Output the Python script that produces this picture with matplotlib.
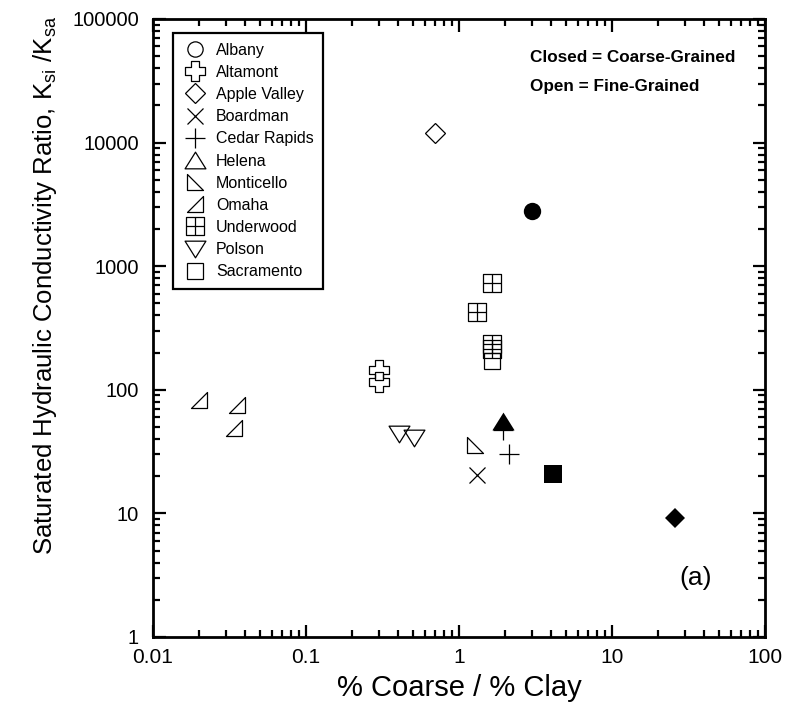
import matplotlib
matplotlib.use("Agg")
import matplotlib.pyplot as plt
from matplotlib.path import Path
from matplotlib.ticker import LogLocator, FixedLocator, NullFormatter
import numpy as np

plt.rcParams['font.family'] = ['Liberation Sans', 'DejaVu Sans']
plt.rcParams['mathtext.fontset'] = 'custom'
plt.rcParams['mathtext.rm'] = 'Liberation Sans'

# ---- data ----
albany_x = [3.0];            albany_y = [2800]
altamont_x = [0.30, 0.30];   altamont_y = [145, 116]
apple_open_x = [0.70];       apple_open_y = [12000]
apple_fill_x = [26.0];       apple_fill_y = [9.2]
boardman_x = [1.32];         boardman_y = [20.5]
cedar_x = [2.13, 1.94];      cedar_y = [30, 47]
helena_x = [1.94];           helena_y = [56]
monticello_x = [1.27];       monticello_y = [36]
omaha_x = [0.020, 0.0356, 0.0336]; omaha_y = [82, 76, 49]
underwood_x = [1.64, 1.32, 1.64, 1.64]; underwood_y = [730, 430, 235, 215]
polson_x = [0.406, 0.51];    polson_y = [44, 40.5]
sacr_open_x = [1.64];        sacr_open_y = [171]
sacr_fill_x = [4.1];         sacr_fill_y = [20.8]

x_ticks = [0.01, 0.1, 1, 10, 100]
x_tick_labels = ['0.01', '0.1', '1', '10', '100']
y_ticks = [1, 10, 100, 1000, 10000, 100000]
y_tick_labels = ['1', '10', '100', '1000', '10000', '100000']

# ---- custom markers ----
a = 0.38
cross_path = Path([(-a, 1), (a, 1), (a, a), (1, a), (1, -a), (a, -a), (a, -1),
                   (-a, -1), (-a, -a), (-1, -a), (-1, a), (-a, a), (-a, 1)],
                  [Path.MOVETO] + [Path.LINETO] * 11 + [Path.CLOSEPOLY])
montic_path = Path([(-1, 1), (-1, -1), (1, -1), (-1, 1)],
                   [Path.MOVETO, Path.LINETO, Path.LINETO, Path.CLOSEPOLY])
omaha_path = Path([(-1, -1), (1, -1), (1, 1), (-1, -1)],
                  [Path.MOVETO, Path.LINETO, Path.LINETO, Path.CLOSEPOLY])
grid_path = Path([(-1, -1), (1, -1), (1, 1), (-1, 1), (-1, -1),
                  (0, -1), (0, 1), (-1, 0), (1, 0)],
                 [Path.MOVETO, Path.LINETO, Path.LINETO, Path.LINETO, Path.CLOSEPOLY,
                  Path.MOVETO, Path.LINETO, Path.MOVETO, Path.LINETO])
tri_up = Path([(0, 0.8), (-1, -0.8), (1, -0.8), (0, 0.8)],
              [Path.MOVETO, Path.LINETO, Path.LINETO, Path.CLOSEPOLY])
tri_down = Path([(0, -0.8), (-1, 0.8), (1, 0.8), (0, -0.8)],
                [Path.MOVETO, Path.LINETO, Path.LINETO, Path.CLOSEPOLY])

W, H = 789, 708
fig = plt.figure(figsize=(W / 100, H / 100), dpi=100)
ax = fig.add_axes([153 / W, 1 - 637 / H, 612 / W, 618 / H])

lw = 0.9
open_kw = dict(linestyle='none', markerfacecolor='none', markeredgecolor='black',
               markeredgewidth=lw)

# legend (open) series
ax.plot(albany_x[:0], albany_y[:0], marker='o', ms=11, label='Albany', **open_kw)
ax.plot(altamont_x, altamont_y, marker=cross_path, ms=14, label='Altamont', **open_kw)
ax.plot(apple_open_x, apple_open_y, marker='D', ms=10, label='Apple Valley', **open_kw)
ax.plot(boardman_x, boardman_y, marker='x', ms=12, label='Boardman', **open_kw)
ax.plot(cedar_x, cedar_y, marker='+', ms=15, label='Cedar Rapids', **open_kw)
ax.plot([], [], marker=tri_up, ms=15, label='Helena', **open_kw)
ax.plot(monticello_x, monticello_y, marker=montic_path, ms=12, label='Monticello', **open_kw)
ax.plot(omaha_x, omaha_y, marker=omaha_path, ms=12, label='Omaha', **open_kw)
ax.plot(underwood_x, underwood_y, marker=grid_path, ms=12.5, label='Underwood', **open_kw)
ax.plot(polson_x, polson_y, marker=tri_down, ms=15, label='Polson', **open_kw)
ax.plot(sacr_open_x, sacr_open_y, marker='s', ms=12, label='Sacramento', **open_kw)

# filled (coarse-grained) points
fill_kw = dict(linestyle='none', color='black', markeredgewidth=0)
ax.plot(albany_x, albany_y, marker='o', ms=12.5, **fill_kw)
ax.plot(helena_x, helena_y, marker=tri_up, ms=16, **fill_kw)
ax.plot(sacr_fill_x, sacr_fill_y, marker='s', ms=13, **fill_kw)
ax.plot(apple_fill_x, apple_fill_y, marker='D', ms=10, **fill_kw)

ax.set_xscale('log')
ax.set_yscale('log')
ax.set_xlim(0.01, 100)
ax.set_ylim(1, 100000)

ax.xaxis.set_major_locator(FixedLocator(x_ticks))
ax.set_xticklabels(x_tick_labels)
ax.yaxis.set_major_locator(FixedLocator(y_ticks))
ax.set_yticklabels(y_tick_labels)
ax.xaxis.set_minor_locator(LogLocator(base=10, subs=np.arange(2, 10)))
ax.yaxis.set_minor_locator(LogLocator(base=10, subs=np.arange(2, 10)))
ax.xaxis.set_minor_formatter(NullFormatter())
ax.yaxis.set_minor_formatter(NullFormatter())

ax.tick_params(which='both', direction='in', top=True, right=True, width=1.6,
               labelsize=15, pad=8)
ax.tick_params(which='major', length=9)
ax.tick_params(which='minor', length=5)
ax.tick_params(axis='y', labelsize=14.5, pad=10)
for s in ax.spines.values():
    s.set_linewidth(2)

fig.text(459 / W, 1 - 696 / H, '% Coarse / % Clay', fontsize=21,
         ha='center', va='baseline')
fig.text(45 / W, 1 - 16 / H,
         'Saturated Hydraulic Conductivity Ratio, K$_{\\mathregular{si}}$ /K$_{\\mathregular{sa}}$',
         fontsize=18.5, rotation=90, ha='center', va='top')

leg = ax.legend(loc='upper left', bbox_to_anchor=(20 / 612, 1 - 14 / 618), fontsize=11.5,
                frameon=True, fancybox=False, edgecolor='black', framealpha=1,
                handletextpad=0.6, labelspacing=0.45, borderpad=0.6,
                handlelength=1.5, borderaxespad=0.0)
leg.get_frame().set_linewidth(1.6)

ax.text((530 - 153) / 612, (637 - 58) / 618, 'Closed = Coarse-Grained', transform=ax.transAxes,
        ha='left', va='center', fontsize=12.3, fontweight='bold')
ax.text((530 - 153) / 612, (637 - 87) / 618, 'Open = Fine-Grained', transform=ax.transAxes,
        ha='left', va='center', fontsize=12.3, fontweight='bold')
ax.text((696 - 153) / 612, (637 - 578) / 618, '(a)', transform=ax.transAxes,
        ha='center', va='center', fontsize=19)

fig.savefig('out.png', dpi=100)
